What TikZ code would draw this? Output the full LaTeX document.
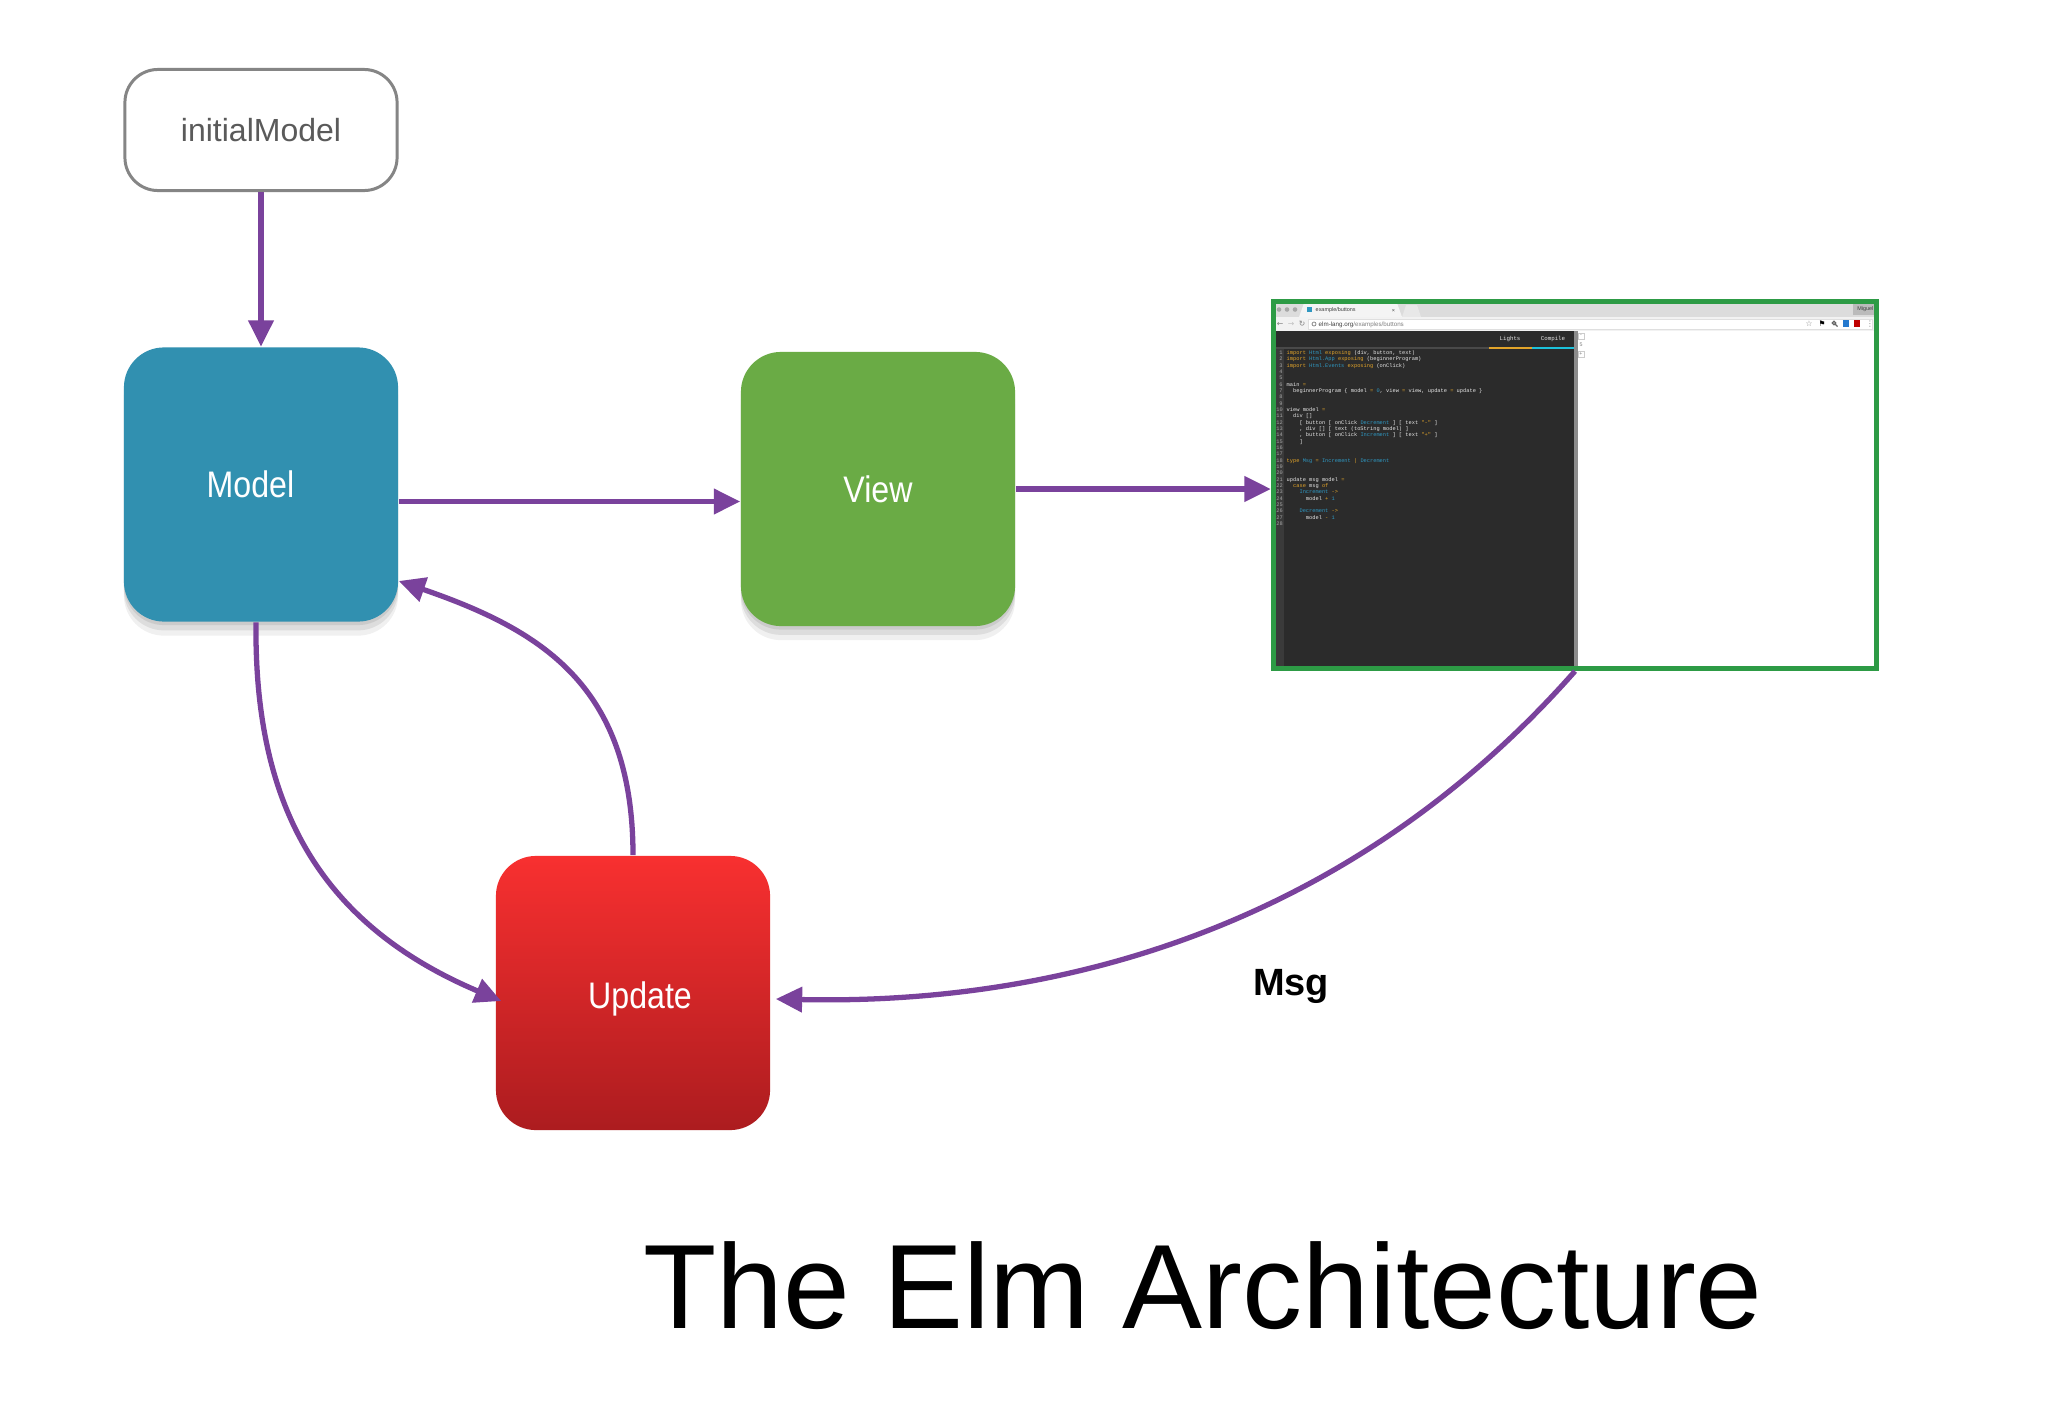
\documentclass[tikz,border=0pt]{standalone}
\usepackage{fontspec}
\setmainfont{Liberation Sans}
\newfontfamily\codefont{Liberation Mono}
\newfontfamily\symfont{DejaVu Sans}
\newfontfamily\labelfont[FakeStretch=0.87]{Liberation Sans}
\usetikzlibrary{arrows.meta,positioning,calc,shadows}

\definecolor{modelblue}{HTML}{3190B0}
\definecolor{viewgreen}{HTML}{6AAB45}
\definecolor{updtop}{HTML}{F83030}
\definecolor{updbot}{HTML}{AC1C1F}
\definecolor{arrowpurple}{HTML}{7A429C}
\definecolor{screengreen}{HTML}{2D9B45}
\definecolor{boxgray}{HTML}{858585}
\definecolor{textgray}{HTML}{5A5A5A}
\definecolor{editdark}{HTML}{2B2B2B}
\definecolor{gutter}{HTML}{3A3A3A}
\definecolor{sepgray}{HTML}{8C8C8C}
\definecolor{tabgray}{HTML}{DCDCDC}
\definecolor{tablight}{HTML}{F4F4F4}
\definecolor{addrgray}{HTML}{F2F2F2}
\definecolor{dotgray}{HTML}{A8A8A8}
\definecolor{kworange}{HTML}{E2A42A}
\definecolor{tyblue}{HTML}{2F97C1}
\definecolor{codewhite}{HTML}{E6E6E6}

\newcommand\elmkw[1]{\textcolor{kworange}{#1}}
\newcommand\elmty[1]{\textcolor{tyblue}{#1}}

\begin{document}
\begin{tikzpicture}[x=0.01cm,y=-0.01cm,
		startbox/.style={rectangle,draw=boxgray,line width=0.85pt,rounded corners=0.33cm,
			minimum width=2.72cm,minimum height=1.21cm,text=textgray,font=\fontsize{9.1}{11}\selectfont},
		block/.style={rectangle,rounded corners=0.4cm,minimum width=2.74cm,minimum height=2.74cm,
			inner sep=0pt,text=white,font=\labelfont\fontsize{10.5}{12}\selectfont},
		shadowed/.style={drop shadow={shadow xshift=0pt,shadow yshift=-1pt,opacity=0.08,fill=black},
			drop shadow={shadow xshift=0pt,shadow yshift=-2.5pt,opacity=0.08,fill=black},
			drop shadow={shadow xshift=0pt,shadow yshift=-4pt,opacity=0.06,fill=black}},
		screen/.style={rectangle,draw=screengreen,line width=1.42pt,minimum width=6.03cm,
			minimum height=3.67cm,inner sep=0pt},
		marrow/.style={-{Triangle[length=7.5pt,width=7pt]},line width=1.5pt,draw=arrowpurple},
		tabtext/.style={anchor=west,inner sep=0pt,text=black!75,font=\fontsize{1.55}{1.8}\selectfont},
		symtext/.style={inner sep=0pt,text=gray,font=\symfont\fontsize{2.2}{2.5}\selectfont},
		tabcode/.style={inner sep=0pt,text=codewhite,font=\codefont\fontsize{1.65}{2}\selectfont},
		lineno/.style={anchor=base east,inner sep=0pt,text=gray!70,font=\codefont\fontsize{1.52}{1.8}\selectfont},
		codeline/.style={anchor=base west,inner sep=0pt,text=codewhite,font=\codefont\fontsize{1.52}{1.8}\selectfont},
		counterbtn/.style={draw=gray!40,line width=0.2pt,minimum size=0.06cm,inner sep=0pt,
			text=gray,font=\fontsize{1.5}{1.8}\selectfont},
		msglabel/.style={anchor=base,inner sep=0pt,font=\bfseries\fontsize{10.8}{13}\selectfont},
		headline/.style={anchor=base,inner sep=0pt,font=\fontsize{34.1}{40}\selectfont}]

	\fill[white] (0,0) rectangle (2046,1412);

	\node[startbox] (initial) at (261,130) {initialModel};
	\node[block,shadowed,fill=modelblue] (model) at (261,484.5) {\hspace*{-6pt}Model};
	\node[block,shadowed,fill=viewgreen] (view) at (878,489) {View};
	\node[block,top color=updtop,bottom color=updbot] (update) at (633,993)
		{\raisebox{-1.8pt}[\height][\depth]{\hspace*{4pt}Update}};

	% browser window
	\fill[tabgray] (1274,302) rectangle (1876,317);
	\foreach \x in {1279,1287,1295}
		\fill[dotgray] (\x,309.5) circle (2.3);
	\fill[tablight] (1299,317) -- (1304,303) -- (1397,303) -- (1402,317) -- cycle;
	\fill[tablight!50!tabgray] (1402,317) -- (1406,305) -- (1417,305) -- (1421,317) -- cycle;
	\fill[tyblue] (1307,307) rectangle (1312,312);
	\node[tabtext] (tabname) at (1315,310.5) {example/buttons};
	\node[tabtext] (tabclose) at (1391,310.5) {×};
	\fill[tabgray!85!black] (1853,304) rectangle (1876,315);
	\node[tabtext,anchor=east] (user) at (1874,309.5) {Miguel};

	\fill[addrgray] (1274,317) rectangle (1876,331);
	\filldraw[fill=white,draw=gray!25,line width=0.2pt] (1308,319) rectangle (1872,329);
	\node[symtext] (back) at (1280,324) {←};
	\node[symtext,text=gray!50] (forward) at (1291,324) {→};
	\node[symtext] (reload) at (1302,324) {↻};
	\draw[gray,line width=0.2pt] (1314,324) circle (2);
	\node[tabtext,font=\fontsize{1.77}{2}\selectfont] (url) at (1318,324.5)
		{elm-lang.org\textcolor{gray}{/examples/buttons}};
	\node[symtext] (star) at (1809,324) {☆};
	\node[symtext,text=black] (flag) at (1822,324) {⚑};
	\draw[gray!80!black,line width=0.35pt] (1834,323) circle (1.8) (1835.3,324.3) -- (1837.5,326.5);
	\fill[tyblue!80!blue] (1843,320) rectangle (1849,327);
	\fill[red!75!black] (1854,320) rectangle (1860,327);
	\node[symtext] (menu) at (1870,324) {⋮};

	% editor
	\fill[editdark] (1274,331) rectangle (1574,669);
	\fill[gutter] (1274,348) rectangle (1284,669);
	\fill[gray!35!editdark] (1274,347) rectangle (1489,348.5);
	\fill[kworange] (1489,346.5) rectangle (1532,348.5);
	\fill[tyblue!60!cyan] (1532,346.5) rectangle (1574,348.5);
	\node[tabcode] (lights) at (1510,339) {Lights};
	\node[tabcode] (compile) at (1553,339) {Compile};
	\fill[sepgray] (1574,331) rectangle (1578,669);
	\node[counterbtn] (minus) at (1581,336) {-};
	\node[counterbtn,draw=none] (count) at (1581,344.5) {5};
	\node[counterbtn] (plus) at (1581,354) {+};

	\foreach \n in {1,...,28}
		\node[lineno] (num\n) at (1283.5,{354.6+(\n-1)*6.33}) {\n};
	\foreach \n/\txt in {
			1/{\elmkw{import} \elmty{Html} \elmkw{exposing} (div, button, text)},
			2/{\elmkw{import} \elmty{Html.App} \elmkw{exposing} (beginnerProgram)},
			3/{\elmkw{import} \elmty{Html.Events} \elmkw{exposing} (onClick)},
			6/{main \elmkw{=}},
			7/{\phantom{xx}beginnerProgram \{ model \elmkw{=} \elmty{0}, view \elmkw{=} view, update \elmkw{=} update \}},
			10/{view model \elmkw{=}},
			11/{\phantom{xx}div []},
			12/{\phantom{xxxx}[ button [ onClick \elmty{Decrement} ] [ text \elmkw{"-"} ]},
			13/{\phantom{xxxx}, div [] [ text (toString model) ]},
			14/{\phantom{xxxx}, button [ onClick \elmty{Increment} ] [ text \elmkw{"+"} ]},
			15/{\phantom{xxxx}]},
			18/{\elmkw{type} \elmty{Msg} \elmkw{=} \elmty{Increment} \elmkw{|} \elmty{Decrement}},
			21/{update msg model \elmkw{=}},
			22/{\phantom{xx}\elmkw{case} msg \elmkw{of}},
			23/{\phantom{xxxx}\elmty{Increment} \elmkw{->}},
			24/{\phantom{xxxxxx}model \elmkw{+} \elmty{1}},
			26/{\phantom{xxxx}\elmty{Decrement} \elmkw{->}},
			27/{\phantom{xxxxxx}model \elmkw{-} \elmty{1}}}
		\node[codeline] (line\n) at (1286,{354.6+(\n-1)*6.33}) {\txt};

	\node[screen] (screen) at (1575,485) {};

	% straight arrows
	\draw[marrow] (initial) -- (model);
	\draw[marrow] ($(model.east)+(0,17)$) coordinate (m2v) -- (m2v -| view.west);
	\draw[marrow] (view.east) -- (view.east -| screen.west);

	% curved arrows
	\draw[marrow] ($(model.south)+(-5,0)$) .. controls +(-2,180) and +(-184,-78) .. ($(update.west)+(6,8)$);
	\draw[marrow] (update.north) .. controls +(0,-170) and +(142,49) .. (model.-35);
	\draw[marrow] (screen.south) .. controls +(-231,262) and +(274,6) .. ($(update.east)+(5,6)$);

	\node[msglabel] (msg) at (1291,995) {Msg};
	\node[headline] (title) at (1203,1328) {The Elm Architecture};
\end{tikzpicture}
\end{document}
